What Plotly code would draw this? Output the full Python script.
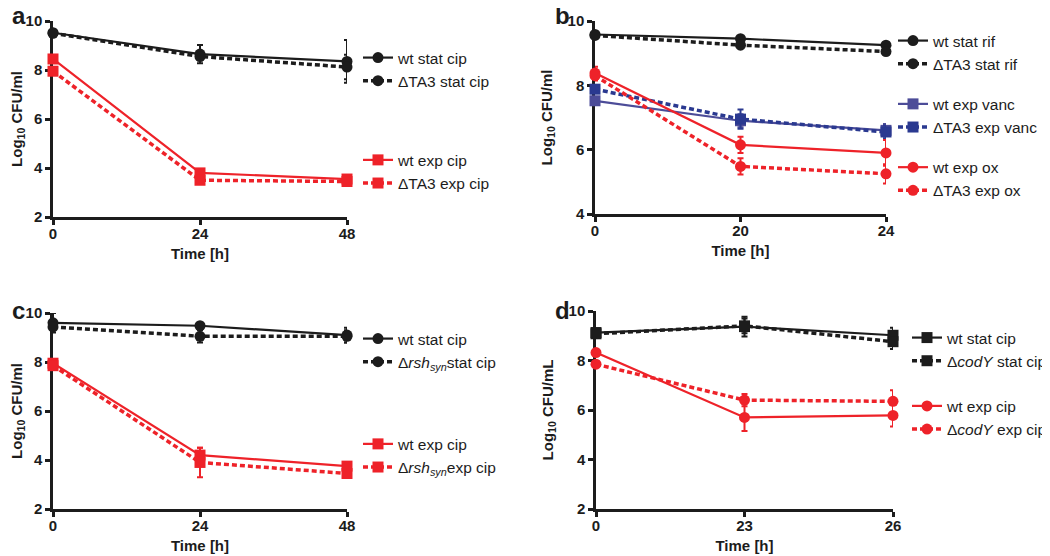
import plotly.graph_objects as go

# the page body adds an 8px margin, so the figure is drawn 8px smaller
OFF = 8
W, H = 1050 - OFF, 556 - OFF

BLACK = "#1c1c1c"
RED = "#ee2229"
SLATE = "#4c4c98"
NAVY = "#2a3990"

# panel a
a_times = ["0", "24", "48"]
a_wt_stat = [9.52, 8.65, 8.35]
a_wt_stat_err = [0.05, 0.37, 0.87]
a_ta3_stat = [9.5, 8.55, 8.12]
a_ta3_stat_err = [0.05, 0.15, 0.5]
a_wt_exp = [8.45, 3.8, 3.55]
a_wt_exp_err = [0.1, 0.1, 0.1]
a_ta3_exp = [7.95, 3.5, 3.45]
a_ta3_exp_err = [0.1, 0.1, 0.1]

# panel b
b_times = ["0", "20", "24"]
b_wt_rif = [9.58, 9.45, 9.25]
b_wt_rif_err = [0.03, 0.05, 0.05]
b_ta3_rif = [9.55, 9.25, 9.05]
b_ta3_rif_err = [0.03, 0.05, 0.05]
b_wt_vanc = [7.52, 6.9, 6.6]
b_wt_vanc_err = [0.05, 0.2, 0.2]
b_ta3_vanc = [7.88, 6.95, 6.55]
b_ta3_vanc_err = [0.1, 0.3, 0.2]
b_wt_ox = [8.38, 6.15, 5.9]
b_wt_ox_err = [0.2, 0.25, 0.4]
b_ta3_ox = [8.3, 5.48, 5.25]
b_ta3_ox_err = [0.15, 0.25, 0.3]

# panel c
c_times = ["0", "24", "48"]
c_wt_stat = [9.6, 9.48, 9.1]
c_wt_stat_err = [0.4, 0.1, 0.3]
c_rsh_stat = [9.43, 9.05, 9.05]
c_rsh_stat_err = [0.1, 0.25, 0.25]
c_wt_exp = [7.95, 4.2, 3.75]
c_wt_exp_err = [0.1, 0.3, 0.15]
c_rsh_exp = [7.85, 3.9, 3.45]
c_rsh_exp_err = [0.1, 0.6, 0.15]

# panel d
d_times = ["0", "23", "26"]
d_wt_stat = [9.13, 9.37, 9.02]
d_wt_stat_err = [0.1, 0.4, 0.3]
d_cody_stat = [9.08, 9.4, 8.76]
d_cody_stat_err = [0.1, 0.3, 0.3]
d_wt_exp = [8.32, 5.7, 5.78]
d_wt_exp_err = [0.05, 0.55, 0.45]
d_cody_exp = [7.85, 6.4, 6.35]
d_cody_exp_err = [0.05, 0.25, 0.45]


def px(x):
    return (x - OFF) / W


def py(y):
    return 1 - (y - OFF) / H


fig = go.Figure()


def add(ax, y, err, name, color, symbol, dashed, legend, group):
    fig.add_trace(go.Scatter(
        x=[0, 1, 2], y=y, name=name,
        xaxis="x" + ax, yaxis="y" + ax,
        mode="lines+markers",
        line=dict(color=color, width=3.5 if dashed else 2.2,
                  dash="5px,3px" if dashed else "solid"),
        marker=dict(color=color, symbol=symbol, size=11),
        error_y=dict(type="data", array=err, color=color, thickness=2, width=3),
        legend=legend, legendgroup=group, cliponaxis=False,
    ))


add("", a_wt_stat, a_wt_stat_err, "wt stat cip", BLACK, "circle", False, "legend", "a1")
add("", a_ta3_stat, a_ta3_stat_err, "ΔTA3 stat cip", BLACK, "circle", True, "legend", "a1")
add("", a_wt_exp, a_wt_exp_err, "wt exp cip", RED, "square", False, "legend", "a2")
add("", a_ta3_exp, a_ta3_exp_err, "ΔTA3 exp cip", RED, "square", True, "legend", "a2")

add("2", b_wt_rif, b_wt_rif_err, "wt stat rif", BLACK, "circle", False, "legend2", "b1")
add("2", b_ta3_rif, b_ta3_rif_err, "ΔTA3 stat rif", BLACK, "circle", True, "legend2", "b1")
add("2", b_wt_vanc, b_wt_vanc_err, "wt exp vanc", SLATE, "square", False, "legend2", "b2")
add("2", b_ta3_vanc, b_ta3_vanc_err, "ΔTA3 exp vanc", NAVY, "square", True, "legend2", "b2")
add("2", b_wt_ox, b_wt_ox_err, "wt exp ox", RED, "circle", False, "legend2", "b3")
add("2", b_ta3_ox, b_ta3_ox_err, "ΔTA3 exp ox", RED, "circle", True, "legend2", "b3")

add("3", c_wt_stat, c_wt_stat_err, "wt stat cip", BLACK, "circle", False, "legend3", "c1")
add("3", c_rsh_stat, c_rsh_stat_err, "Δ<i>rsh<sub>syn</sub></i>stat cip", BLACK, "circle", True, "legend3", "c1")
add("3", c_wt_exp, c_wt_exp_err, "wt exp cip", RED, "square", False, "legend3", "c2")
add("3", c_rsh_exp, c_rsh_exp_err, "Δ<i>rsh<sub>syn</sub></i>exp cip", RED, "square", True, "legend3", "c2")

add("4", d_wt_stat, d_wt_stat_err, "wt stat cip", BLACK, "square", False, "legend4", "d1")
add("4", d_cody_stat, d_cody_stat_err, "Δ<i>codY</i> stat cip", BLACK, "square", True, "legend4", "d1")
add("4", d_wt_exp, d_wt_exp_err, "wt exp cip", RED, "circle", False, "legend4", "d2")
add("4", d_cody_exp, d_cody_exp_err, "Δ<i>codY</i> exp cip", RED, "circle", True, "legend4", "d2")

tickfont = dict(family="Liberation Sans", size=15, color=BLACK, weight="bold")
titlefont = dict(family="Liberation Sans", size=15, color=BLACK, weight="bold")


def xaxis(left, right, anchor, labels):
    return dict(domain=[px(left), px(right)], anchor=anchor, range=[0, 2],
                tickvals=[0, 1, 2], ticktext=labels,
                showline=True, linecolor=BLACK, linewidth=2.5, ticks="outside", ticklen=5,
                tickwidth=2.5, tickcolor=BLACK, showgrid=False, zeroline=False,
                tickfont=tickfont, layer="below traces", ticklabelstandoff=-4,
                title=dict(text="Time [h]", font=titlefont, standoff=8))


def yaxis(top, bottom, anchor, rng, ytitle):
    return dict(domain=[py(bottom), py(top)], anchor=anchor, range=rng, dtick=2,
                showline=True, linecolor=BLACK, linewidth=2.5, ticks="outside", ticklen=5,
                tickwidth=2.5, tickcolor=BLACK, showgrid=False, zeroline=False,
                tickfont=tickfont, layer="below traces",
                title=dict(text=ytitle, font=titlefont, standoff=12))


def legend(x, y, gap):
    return dict(x=px(x), y=py(y), xanchor="left", yanchor="top",
                font=dict(family="Liberation Sans", size=15.5, color=BLACK),
                tracegroupgap=gap, traceorder="grouped", bgcolor="rgba(0,0,0,0)",
                itemwidth=30)


ytitle = "Log<sub>10</sub> CFU/ml"
fig.update_layout(
    width=W, height=H,
    margin=dict(l=0, r=0, t=0, b=0, autoexpand=False),
    paper_bgcolor="white", plot_bgcolor="white",
    showlegend=True,
    xaxis=xaxis(53, 347, "y", a_times),
    yaxis=yaxis(21, 217, "x", [2, 10], ytitle),
    xaxis2=xaxis(595, 886, "y2", b_times),
    yaxis2=yaxis(21, 214, "x2", [4, 10], ytitle),
    xaxis3=xaxis(53, 347, "y3", c_times),
    yaxis3=yaxis(313, 509, "x3", [2, 10], ytitle),
    xaxis4=xaxis(596, 893, "y4", d_times),
    yaxis4=yaxis(311, 509, "x4", [2, 10], "Log<sub>10</sub> CFU/mL"),
    legend=legend(358, 41, 56),
    legend2=legend(893, 24, 17),
    legend3=legend(358, 322, 59),
    legend4=legend(907, 321, 22),
)

letterfont = dict(family="Liberation Sans", size=24, color=BLACK, weight="bold")
for txt, lx, ly in [("a", 19, 15), ("b", 562, 15), ("c", 18, 310), ("d", 562, 310)]:
    fig.add_annotation(text=txt, x=px(lx), y=py(ly), xref="paper", yref="paper",
                       xanchor="center", yanchor="middle", showarrow=False, font=letterfont)

fig.write_html("out.html")
